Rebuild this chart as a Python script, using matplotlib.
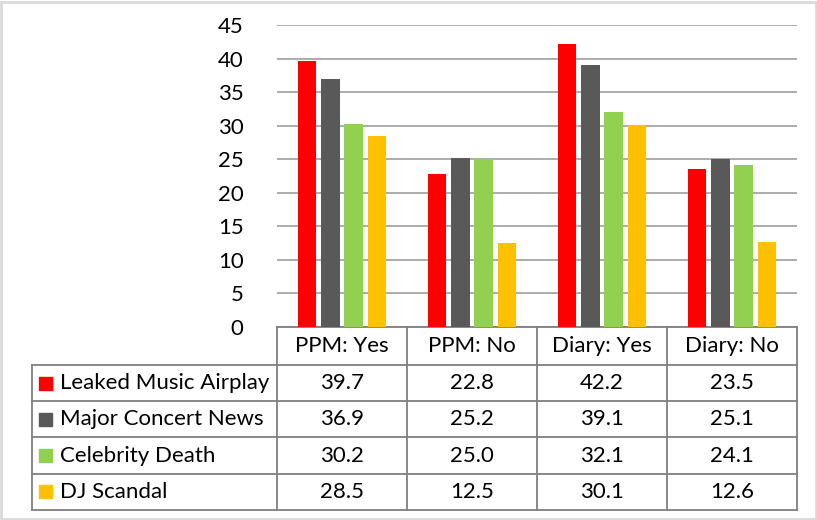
import numpy as np
import matplotlib
matplotlib.use("Agg")
import matplotlib.pyplot as plt
from matplotlib.transforms import blended_transform_factory
from matplotlib.patches import Rectangle

plt.rcParams['font.family'] = ['Lato', 'DejaVu Sans']

categories = ['PPM: Yes', 'PPM: No', 'Diary: Yes', 'Diary: No']
series_names = ['Leaked Music Airplay', 'Major Concert News', 'Celebrity Death', 'DJ Scandal']
leaked = [39.7, 22.8, 42.2, 23.5]
concert = [36.9, 25.2, 39.1, 25.1]
celebrity = [30.2, 25.0, 32.1, 24.1]
dj = [28.5, 12.5, 30.1, 12.6]
colors = ['#ff0000', '#595959', '#92d050', '#ffc000']
yticks = [0, 5, 10, 15, 20, 25, 30, 35, 40, 45]

series = [leaked, concert, celebrity, dj]
FS = 16

W, H = 817, 520
fig = plt.figure(figsize=(W / 100, H / 100), dpi=100)
ax = fig.add_axes([277 / W, (H - 327) / H, 520 / W, 302 / H])

x = np.arange(len(categories))
step = 0.18
width = 0.142
for i, (vals, c) in enumerate(zip(series, colors)):
    ax.bar(x + (i - 1.5) * step, vals, width, color=c, zorder=3)

ax.set_xlim(-0.5, len(categories) - 0.5)
ax.set_ylim(0, 45)
ax.set_yticks(yticks)
ax.set_xticks([])
ax.yaxis.grid(True, color='#a6a6a6', lw=1.3, zorder=0)
ax.tick_params(axis='y', length=0, pad=24, labelsize=FS)
for s in ax.spines.values():
    s.set_visible(False)

# data table under the plot
tr = blended_transform_factory(ax.transData, ax.transAxes)
px = 1 / 302  # one pixel in axes fraction
head_h = 38 * px
row_h = 36.2 * px
left = -0.5 - 245 / 130
right = len(categories) - 0.5
lc = '#7f7f7f'
kw = dict(transform=tr, clip_on=False, color=lc, lw=1.3)

y_head = -head_h
y_bottom = y_head - row_h * len(series)
# horizontal lines
ax.plot([-0.5, right], [0, 0], **kw)
for r in range(len(series) + 1):
    yy = y_head - r * row_h
    ax.plot([left, right], [yy, yy], **kw)
# vertical lines
ax.plot([left, left], [y_head, y_bottom], **kw)
for k in range(len(categories) + 1):
    xx = k - 0.5
    ax.plot([xx, xx], [0, y_bottom], **kw)

for k, cat in enumerate(categories):
    ax.text(k, -head_h / 2, cat, transform=tr, ha='center', va='center',
            fontsize=FS, color='#000000')

sq = 13 / 130
for r, (name, vals, c) in enumerate(zip(series_names, series, colors)):
    yc = y_head - (r + 0.5) * row_h
    ax.add_patch(Rectangle((left + 7 / 130, yc - 6.5 * px), sq, 13 * px,
                           transform=tr, clip_on=False, color=c))
    ax.text(left + 28 / 130, yc, name, transform=tr, ha='left', va='center',
            fontsize=FS, color='#000000')
    for k, v in enumerate(vals):
        ax.text(k, yc, f'{v:.1f}', transform=tr, ha='center', va='center',
                fontsize=FS, color='#000000')

# outer frame
fig.add_artist(Rectangle((1 / W, 1 / H), 1 - 2.5 / W, 1 - 2.5 / H,
                         transform=fig.transFigure, fill=False,
                         ec='#d9d9d9', lw=2))

fig.savefig('out.png', dpi=100)
